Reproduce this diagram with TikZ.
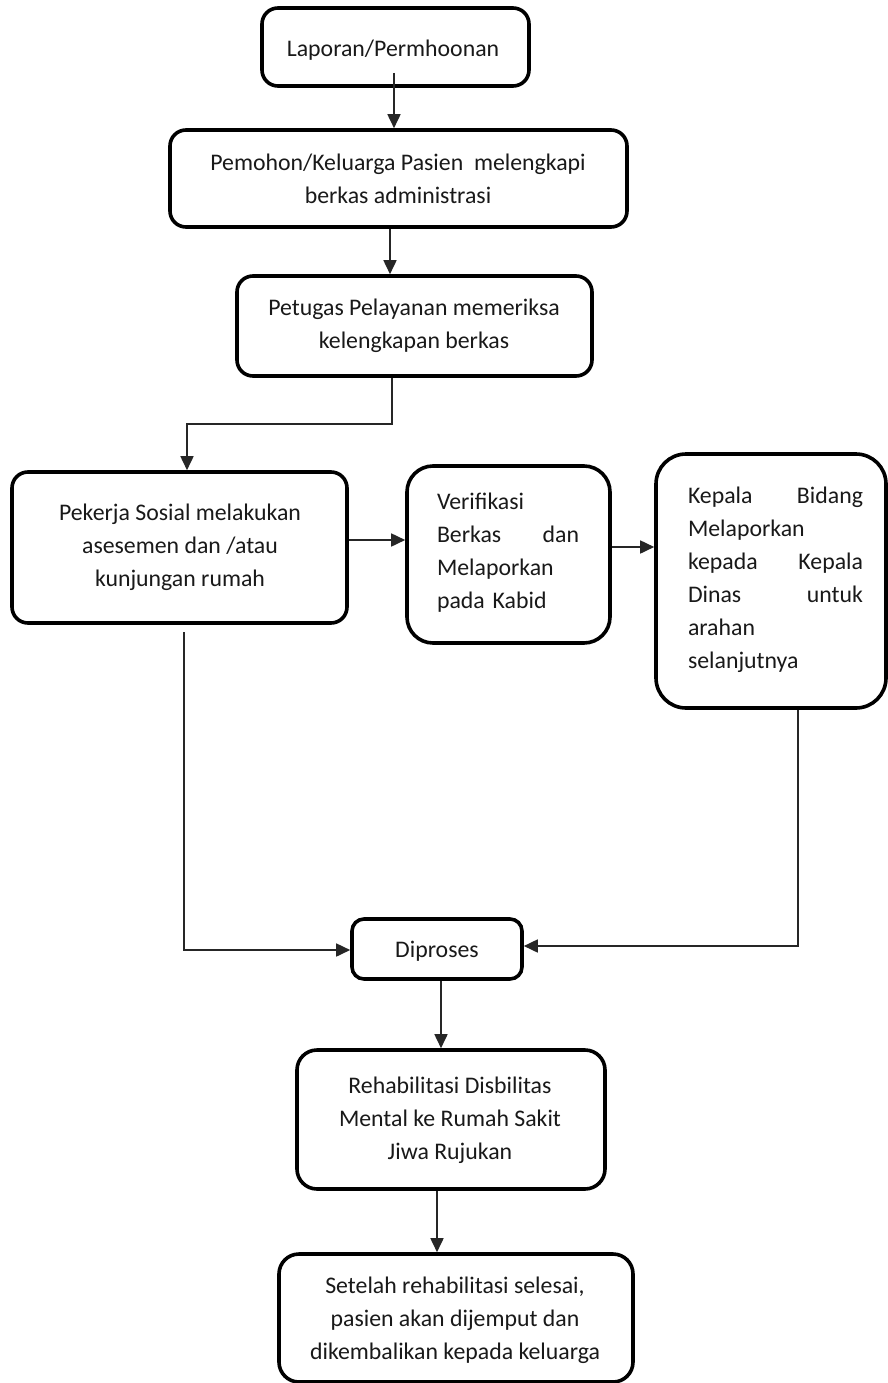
\documentclass[tikz,border=0pt]{standalone}
\usepackage{fontspec}
\setmainfont{Carlito}
\usetikzlibrary{arrows.meta}
\begin{document}
\begin{tikzpicture}[x=1pt,y=-1pt,
  box/.style={draw=black,line width=3.6pt,rounded corners=16pt,inner sep=0pt,fill=white},
  txt/.style={font=\fontsize{23.8}{33}\selectfont,text=black!90,inner sep=0pt,align=center},
  conn/.style={line width=1.7pt,draw=black!85,-{Triangle[length=14pt,width=13pt]}},
  plain/.style={line width=1.7pt,draw=black!85}]
\useasboundingbox (0,0) rectangle (888,1383);
% boxes
\node[box,minimum width=267pt,minimum height=78pt] (b1) at (395.5,47) {};
\node[box,minimum width=457pt,minimum height=97pt] (b2) at (398.5,178.5) {};
\node[box,minimum width=355pt,minimum height=100pt] (b3) at (414.5,326) {};
\node[box,minimum width=335pt,minimum height=151pt] (b4) at (179.5,547.5) {};
\node[box,rounded corners=26pt,minimum width=203pt,minimum height=177pt] (b5) at (508.5,554.5) {};
\node[box,rounded corners=30pt,minimum width=230pt,minimum height=254pt] (b6) at (771,581) {};
\node[box,rounded corners=12pt,minimum width=170pt,minimum height=60pt] (b7) at (437,949) {};
\node[box,rounded corners=20pt,minimum width=308pt,minimum height=139pt] (b8) at (451,1119.5) {};
\node[box,rounded corners=20pt,minimum width=354pt,minimum height=128pt] (b9) at (456,1318) {};
% texts
\node[txt] (t1) at (393,50) {Laporan/Permhoonan};
\node[txt] (t2) at (398,179) {Pemohon/Keluarga Pasien\ \ melengkapi\\berkas administrasi};
\node[txt] (t3) at (414,326) {Petugas Pelayanan memeriksa\\kelengkapan berkas};
\node[txt] (t4) at (180,547) {Pekerja Sosial melakukan\\asesemen dan /atau\\kunjungan rumah};
\node[txt,align=left,text width=142pt] (t5) at (508,553) {Verifikasi\\Berkas\hfill dan\\Melaporkan\\pada Kabid};
\node[txt,align=left,text width=175pt] (t6) at (775.5,580) {Kepala\hfill Bidang\\Melaporkan\\kepada\hfill Kepala\\Dinas\hfill untuk\\arahan\\selanjutnya};
\node[txt] (t7) at (437,951) {Diproses};
\node[txt] (t8) at (450,1120) {Rehabilitasi Disbilitas\\Mental ke Rumah Sakit\\Jiwa Rujukan};
\node[txt] (t9) at (455,1320) {Setelah rehabilitasi selesai,\\pasien akan dijemput dan\\dikembalikan kepada keluarga};
% connectors
\coordinate (s1) at (394,73);
\draw[conn] (s1) -- (s1 |- b2.north);
\coordinate (s2) at (390,0);
\draw[conn] (s2 |- b2.south) -- (s2 |- b3.north);
\coordinate (k1) at (392,424);
\coordinate (k2) at (187,424);
\draw[conn] (k1 |- b3.south) -- (k1) -- (k2) -- (k2 |- b4.north);
\coordinate (h1) at (0,540);
\draw[conn] (b4.east |- h1) -- (b5.west |- h1);
\coordinate (h2) at (0,547);
\draw[conn] (b5.east |- h2) -- (b6.west |- h2);
\coordinate (L1) at (184,632);
\coordinate (L2) at (184,950);
\draw[conn] (L1) -- (L2) -- (b7.west |- L2);
\coordinate (R1) at (798,946);
\draw[conn] (R1 |- b6.south) -- (R1) -- (b7.east |- R1);
\coordinate (d1) at (441,0);
\draw[conn] (d1 |- b7.south) -- (d1 |- b8.north);
\coordinate (d2) at (437,0);
\draw[conn] (d2 |- b8.south) -- (d2 |- b9.north);
\end{tikzpicture}
\end{document}
